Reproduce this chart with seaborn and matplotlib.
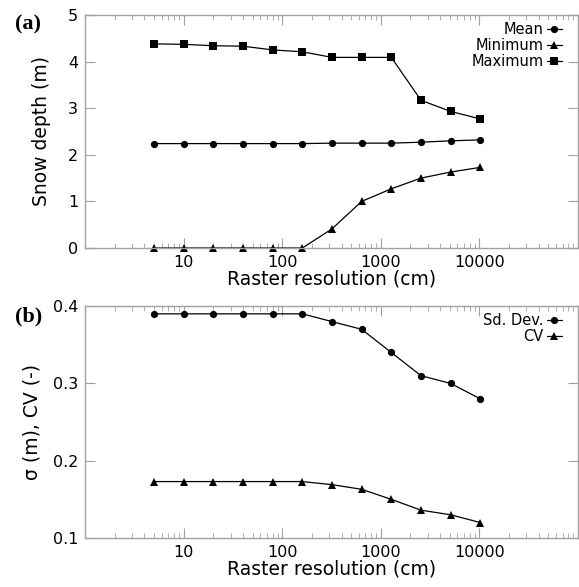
import matplotlib
matplotlib.use("Agg")
import matplotlib.pyplot as plt
import matplotlib.ticker as mticker
import numpy as np
import pandas as pd
import seaborn as sns

# raster resolution (cm)
resolution = [5, 10, 20, 40, 80, 160, 320, 640, 1280, 2560, 5120, 10240]

# panel (a): snow depth (m)
depth_mean = [2.24, 2.24, 2.24, 2.24, 2.24, 2.24, 2.25, 2.25, 2.25, 2.27, 2.30, 2.32]
depth_min = [0.0, 0.0, 0.0, 0.0, 0.0, 0.0, 0.41, 1.00, 1.27, 1.50, 1.63, 1.73]
depth_max = [4.38, 4.37, 4.34, 4.33, 4.25, 4.21, 4.09, 4.09, 4.09, 3.17, 2.93, 2.77]

# panel (b): standard deviation and coefficient of variation
sd_dev = [0.39, 0.39, 0.39, 0.39, 0.39, 0.39, 0.38, 0.37, 0.34, 0.31, 0.30, 0.28]
cv = [0.173, 0.173, 0.173, 0.173, 0.173, 0.173, 0.169, 0.163, 0.150, 0.136, 0.130, 0.120]

sns.set_style("ticks")
plt.rcParams["font.family"] = ["DejaVu Sans"]
plt.rcParams["text.color"] = "black"
plt.rcParams["axes.labelcolor"] = "black"

GRAY = "#a0a0a0"

fig = plt.figure(figsize=(5.79, 5.87), dpi=100)
ax_a = fig.add_axes([0.147, 0.5775, 0.851, 0.397])
ax_b = fig.add_axes([0.147, 0.0835, 0.851, 0.395])


def draw_panel(ax, series, markers):
    df = pd.DataFrame({"res": resolution * len(series),
                       "val": sum([v for v in series.values()], []),
                       "name": sum([[k] * len(resolution) for k in series], [])})
    sns.lineplot(data=df, x="res", y="val", hue="name", style="name",
                 markers=markers, dashes=False, palette=["black"] * len(series),
                 markersize=5.2, linewidth=0.9, markeredgewidth=0, ax=ax,
                 clip_on=False)
    ax.set_xscale("log")
    ax.set_xlim(1, 100000)
    ax.set_xticks([10, 100, 1000, 10000])
    ax.xaxis.set_major_formatter(mticker.FuncFormatter(lambda v, p: f"{int(v)}"))
    ax.xaxis.set_minor_locator(mticker.LogLocator(base=10, subs=np.arange(2, 10)))
    ax.xaxis.set_minor_formatter(mticker.NullFormatter())
    for s in ax.spines.values():
        s.set_color(GRAY)
        s.set_linewidth(1)
        s.set_visible(True)
    ax.tick_params(which="both", direction="in", top=True, right=True,
                   color=GRAY, labelsize=11.5, labelcolor="black")
    ax.tick_params(which="major", length=7, pad=5)
    ax.tick_params(which="minor", length=3.6)
    ax.set_xlabel("Raster resolution (cm)", fontsize=13.5, labelpad=0)
    leg = ax.legend(loc="upper right", bbox_to_anchor=(0.982, 1.0),
                    frameon=False, markerfirst=False,
                    fontsize=10.5, handlelength=1.0, handletextpad=0.25,
                    labelspacing=0.05, borderaxespad=0.2, borderpad=0.3)
    return leg


draw_panel(ax_a, {"Mean": depth_mean, "Minimum": depth_min, "Maximum": depth_max},
           ["o", "^", "s"])
ax_a.set_ylim(0, 5)
ax_a.set_yticks([0, 1, 2, 3, 4, 5])
ax_a.set_ylabel("Snow depth (m)", fontsize=13.5, labelpad=12)

draw_panel(ax_b, {"Sd. Dev.": sd_dev, "CV": cv}, ["o", "^"])
ax_b.set_ylim(0.1, 0.4)
ax_b.set_yticks([0.1, 0.2, 0.3, 0.4])
ax_b.set_ylabel("σ (m), CV (-)", fontsize=13.5, labelpad=8)

fig.text(0.026, 0.975, "(a)", fontsize=16, fontweight="bold",
         family="Liberation Serif", va="top")
fig.text(0.026, 0.478, "(b)", fontsize=16, fontweight="bold",
         family="Liberation Serif", va="top")

fig.savefig("out.png", dpi=100)
